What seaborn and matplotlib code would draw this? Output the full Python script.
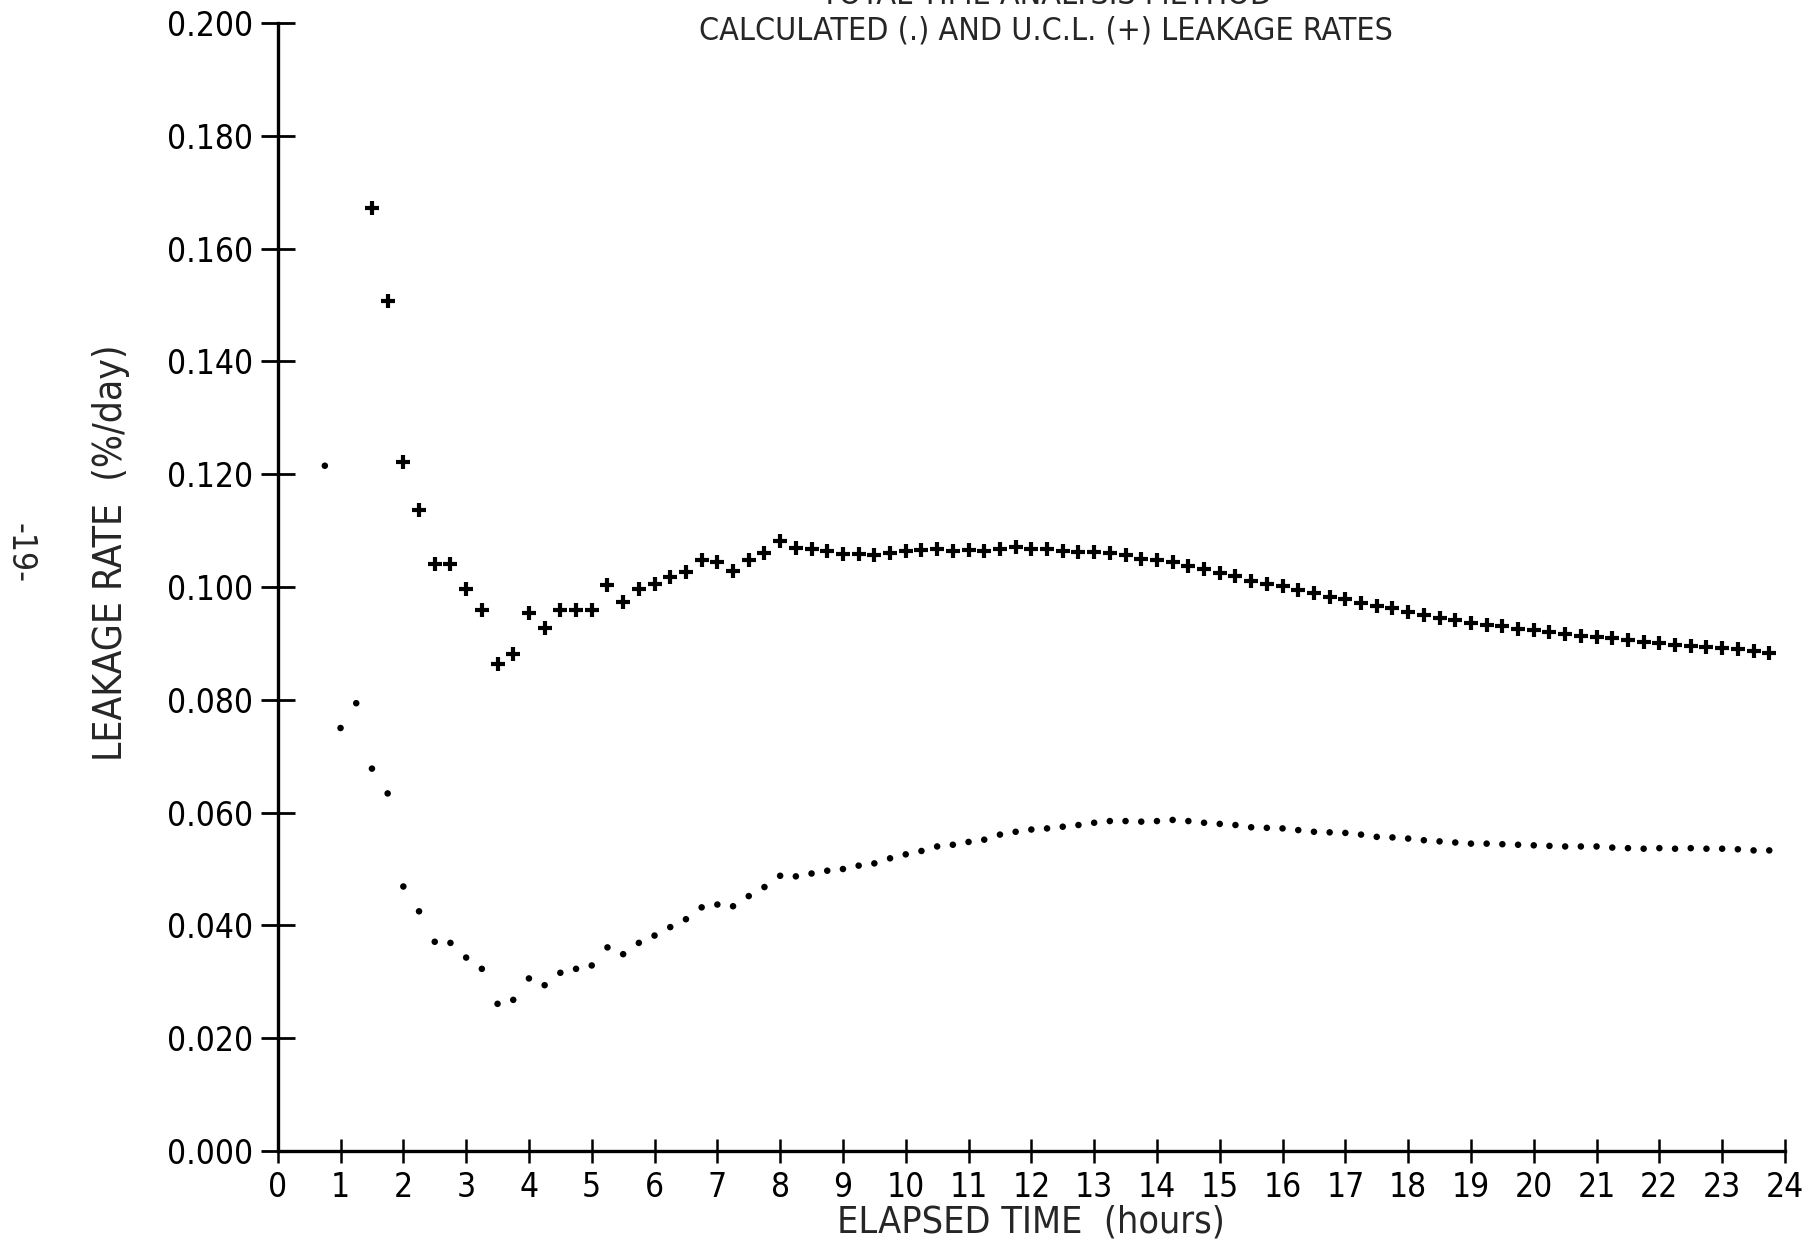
import matplotlib
matplotlib.use("Agg")
import matplotlib.pyplot as plt
import pandas as pd
import seaborn as sns

# readings every 15 minutes
calc_start = 0.75
ucl_start = 1.5
step = 0.25

calc_rate = [
    0.1215, 0.0750, 0.0794, 0.0678, 0.0634, 0.0469, 0.0425, 0.0371, 0.0369, 0.0343,
    0.0323, 0.0261, 0.0268, 0.0306, 0.0294, 0.0316, 0.0323, 0.0329, 0.0361, 0.0349,
    0.0369, 0.0382, 0.0397, 0.0411, 0.0432, 0.0437, 0.0434, 0.0452, 0.0468, 0.0488,
    0.0487, 0.0492, 0.0497, 0.0500, 0.0506, 0.0510, 0.0519, 0.0526, 0.0532, 0.0540,
    0.0543, 0.0548, 0.0552, 0.0561, 0.0566, 0.0570, 0.0572, 0.0575, 0.0578, 0.0582,
    0.0585, 0.0585, 0.0584, 0.0585, 0.0587, 0.0585, 0.0582, 0.0580, 0.0578, 0.0574,
    0.0573, 0.0572, 0.0569, 0.0566, 0.0565, 0.0564, 0.0561, 0.0557, 0.0556, 0.0554,
    0.0551, 0.0549, 0.0547, 0.0545, 0.0545, 0.0544, 0.0543, 0.0542, 0.0541, 0.0540,
    0.0540, 0.0540, 0.0538, 0.0537, 0.0536, 0.0537, 0.0536, 0.0537, 0.0536, 0.0536,
    0.0535, 0.0533, 0.0533,
]

ucl_rate = [
    0.1672, 0.1507, 0.1221, 0.1136, 0.1041, 0.1041, 0.0996, 0.0960, 0.0863, 0.0881,
    0.0954, 0.0927, 0.0959, 0.0959, 0.0959, 0.1004, 0.0974, 0.0997, 0.1006, 0.1018,
    0.1027, 0.1048, 0.1044, 0.1029, 0.1048, 0.1060, 0.1081, 0.1069, 0.1067, 0.1064,
    0.1059, 0.1059, 0.1056, 0.1061, 0.1063, 0.1065, 0.1068, 0.1064, 0.1065, 0.1064,
    0.1068, 0.1071, 0.1068, 0.1067, 0.1063, 0.1062, 0.1062, 0.1060, 0.1056, 0.1050,
    0.1048, 0.1044, 0.1038, 0.1032, 0.1025, 0.1019, 0.1011, 0.1006, 0.1001, 0.0994,
    0.0989, 0.0983, 0.0978, 0.0972, 0.0967, 0.0962, 0.0956, 0.0951, 0.0945, 0.0941,
    0.0937, 0.0933, 0.0930, 0.0926, 0.0923, 0.0920, 0.0916, 0.0913, 0.0912, 0.0909,
    0.0906, 0.0903, 0.0900, 0.0897, 0.0896, 0.0894, 0.0892, 0.0890, 0.0887, 0.0883,
]

x_ticks = list(range(0, 25))
y_ticks = [0.000, 0.020, 0.040, 0.060, 0.080, 0.100, 0.120, 0.140, 0.160, 0.180, 0.200]

calc_df = pd.DataFrame({
    "hours": [calc_start + step * i for i in range(len(calc_rate))],
    "rate": calc_rate,
})
ucl_df = pd.DataFrame({
    "hours": [ucl_start + step * i for i in range(len(ucl_rate))],
    "rate": ucl_rate,
})

sns.set_style("white")
plt.rcParams["font.family"] = ["DejaVu Sans"]
plt.rcParams["font.stretch"] = "condensed"

fig = plt.figure(figsize=(18.07, 12.43), dpi=100)
ax = fig.add_axes([0.1537, 0.074, 0.8341, 0.9075])

sns.scatterplot(data=ucl_df, x="hours", y="rate", marker="+", s=110,
                color="black", linewidth=3.0, ax=ax, clip_on=False)
sns.scatterplot(data=calc_df, x="hours", y="rate", marker="o", s=22,
                color="black", edgecolor="none", ax=ax, clip_on=False)

ax.set_xlim(0, 24)
ax.set_ylim(0, 0.2)
ax.set_xticks(x_ticks)
ax.set_xticklabels([str(t) for t in x_ticks])
ax.set_yticks(y_ticks)
ax.set_yticklabels([f"{t:.3f}" for t in y_ticks])

for side in ["top", "right"]:
    ax.spines[side].set_visible(False)
for side in ["left", "bottom"]:
    ax.spines[side].set_linewidth(2.4)
    ax.spines[side].set_color("black")

ax.tick_params(axis="y", direction="inout", length=24, width=2.0, pad=6,
               labelsize=24, colors="black", left=True)
ax.tick_params(axis="x", direction="inout", length=17, width=1.8, pad=6,
               labelsize=24, colors="black", bottom=True)

ax.set_xlabel("ELAPSED TIME  (hours)", fontsize=27, labelpad=0)
ax.set_ylabel("LEAKAGE RATE  (%/day)", fontsize=28)
ax.yaxis.set_label_coords(-0.098, 0.53)

# first title line is cut by the page edge in the scan
fig.text(0.579, 1.004, "TOTAL TIME ANALYSIS METHOD", ha="center", va="center", fontsize=23)
fig.text(0.579, 0.975, "CALCULATED (.) AND U.C.L. (+) LEAKAGE RATES",
         ha="center", va="center", fontsize=23)
fig.text(0.011, 0.555, "-19-", rotation=-90, ha="center", va="center", fontsize=24)

fig.savefig("out.png", dpi=100, facecolor="white")
